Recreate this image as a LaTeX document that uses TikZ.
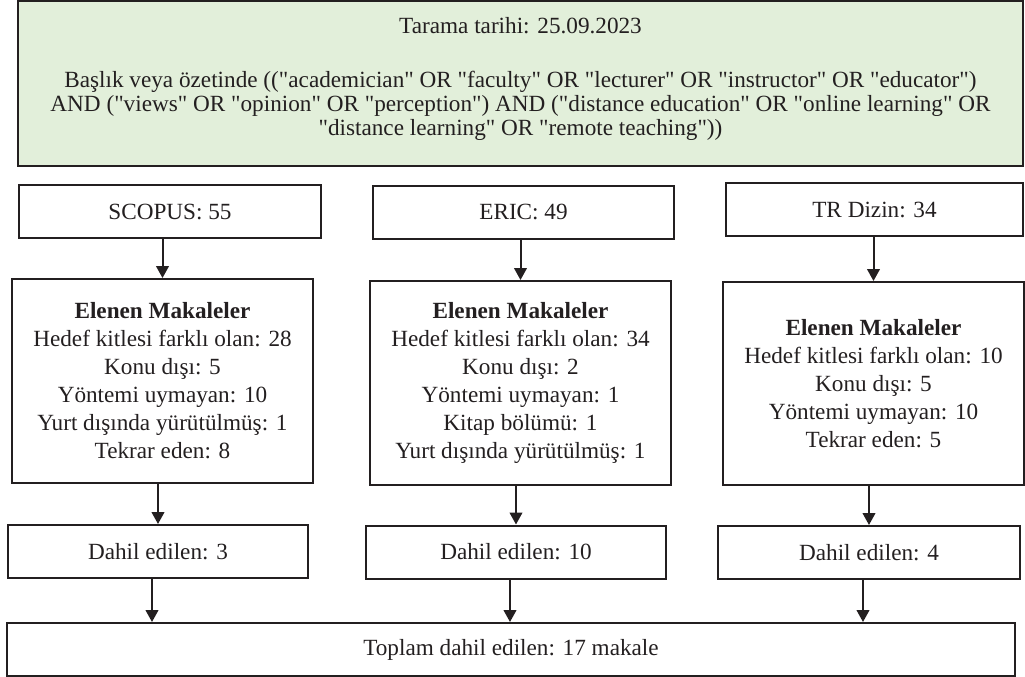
\documentclass[tikz,border=0pt]{standalone}
\usepackage{fontspec}
\setmainfont{Liberation Serif}[Ligatures=TeXOff]
\usetikzlibrary{arrows.meta}
\definecolor{searchgreen}{RGB}{226,239,218}
\definecolor{ink}{RGB}{35,31,32}
\tikzset{
  box/.style={draw=ink,line width=1.5pt,text=ink,align=center,inner sep=0pt,
    font=\fontsize{17.4}{21}\selectfont,minimum width=225.75pt,minimum height=39.75pt},
  arr/.style={draw=ink,line width=1.5pt,-{Triangle[length=9pt,width=9.5pt]}}
}
\begin{document}
\begin{tikzpicture}[x=0.75pt,y=-0.75pt]
  \useasboundingbox (0,0) rectangle (1025,676);
  \node[box,fill=searchgreen,minimum width=753.75pt,minimum height=123.75pt,
    font=\fontsize{17.4}{18}\selectfont,text depth=10pt] (search) at (520.5,83.5)
    {Tarama tarihi: 25.09.2023\\[22.5pt]
     Başlık veya özetinde (("academician" OR "faculty" OR "lecturer" OR "instructor" OR "educator")\\
     AND ("views" OR "opinion" OR "perception") AND ("distance education" OR "online learning" OR\\
     "distance learning" OR "remote teaching"))};
  % databases
  \node[box,minimum width=226.5pt] (scopus) at (170,211.5) {SCOPUS: 55};
  \node[box] (eric) at (523.5,212) {ERIC: 49};
  \node[box,minimum width=222.75pt] (trdizin) at (874.5,209.5) {TR Dizin: 34};
  % excluded
  \node[box,minimum height=153pt] (elenenS) at (162.5,381) {\textbf{Elenen Makaleler}\\
    Hedef kitlesi farklı olan: 28\\Konu dışı: 5\\Yöntemi uymayan: 10\\
    Yurt dışında yürütülmüş: 1\\Tekrar eden: 8};
  \node[box,minimum height=153pt] (elenenE) at (520.5,383) {\textbf{Elenen Makaleler}\\
    Hedef kitlesi farklı olan: 34\\Konu dışı: 2\\Yöntemi uymayan: 1\\
    Kitap bölümü: 1\\Yurt dışında yürütülmüş: 1};
  \node[box,minimum height=152.25pt] (elenenT) at (873.5,383.5) {\textbf{Elenen Makaleler}\\
    Hedef kitlesi farklı olan: 10\\Konu dışı: 5\\Yöntemi uymayan: 10\\Tekrar eden: 5};
  % included
  \node[box,minimum width=225pt] (dahilS) at (158,551.5) {Dahil edilen: 3};
  \node[box,minimum width=225pt] (dahilE) at (516,552) {Dahil edilen: 10};
  \node[box,minimum width=226.5pt] (dahilT) at (869,552.5) {Dahil edilen: 4};
  \node[box,minimum width=756pt] (toplam) at (511,649.5) {Toplam dahil edilen: 17 makale};
  \draw[arr] (elenenS.north |- scopus.south) -- (elenenS.north);
  \draw[arr] (elenenE.north |- eric.south) -- (elenenE.north);
  \draw[arr] (elenenT.north |- trdizin.south) -- (elenenT.north);
  \draw[arr] (dahilS.north |- elenenS.south) -- (dahilS.north);
  \draw[arr] (dahilE.north |- elenenE.south) -- (dahilE.north);
  \draw[arr] (dahilT.north |- elenenT.south) -- (dahilT.north);
  \draw[arr] ([xshift=-4.5pt]dahilS.south) -- ([xshift=-4.5pt]dahilS.south |- toplam.north);
  \draw[arr] ([xshift=-4.5pt]dahilE.south) -- ([xshift=-4.5pt]dahilE.south |- toplam.north);
  \draw[arr] ([xshift=-4.5pt]dahilT.south) -- ([xshift=-4.5pt]dahilT.south |- toplam.north);
\end{tikzpicture}
\end{document}
